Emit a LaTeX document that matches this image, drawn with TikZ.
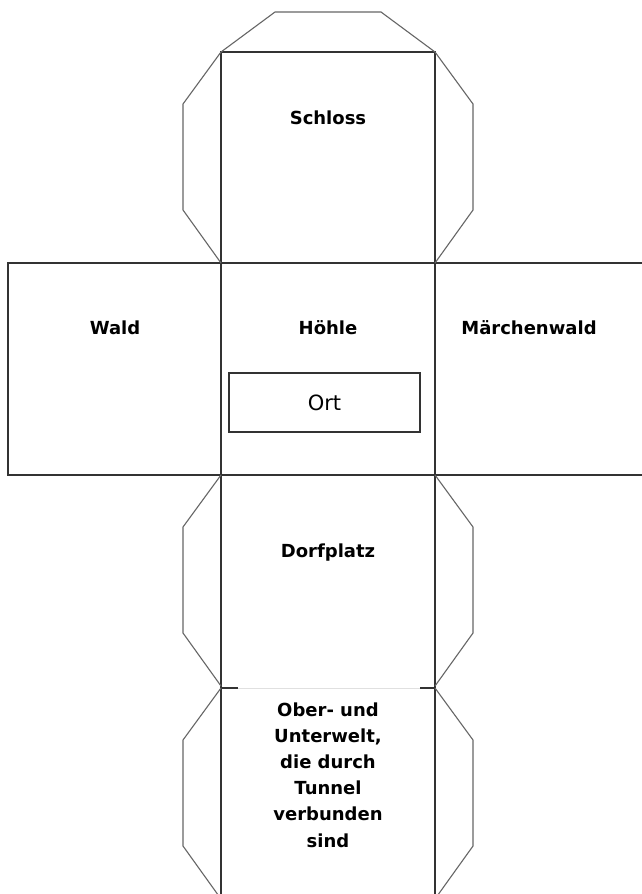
\documentclass[tikz,border=0pt]{standalone}
\usepackage{fontspec}
\setmainfont{DejaVu Sans}
\begin{document}
\begin{tikzpicture}[x=1pt,y=-1pt,
    face/.style={draw=black!80,line width=1.3pt},
    tab/.style={draw=black!60,line width=1.1pt},
    lbl/.style={anchor=base,font=\bfseries\fontsize{18}{26.2}\selectfont,align=center}]
      \clip (0,0) rectangle (642,894);
      \fill[white] (0,0) rectangle (642,894);
      \draw
        (328,124) node[lbl] (schloss){Schloss}
        (115,334) node[lbl] (wald){Wald}
        (328,334) node[lbl] (hoehle){Höhle}
        (529,334) node[lbl] (maerchen){Märchenwald}
        (328,557) node[lbl] (dorf){Dorfplatz}
        (328,847) node[lbl] (welt){Ober- und\\Unterwelt,\\die durch\\Tunnel\\verbunden\\sind};
      \node[draw=black!80,line width=1.2pt,minimum width=191pt,minimum height=59pt,
        font=\fontsize{21}{25}\selectfont] (ort) at (324.5,402.5) {Ort};
      \begin{scope}[face]
        \draw (221,52) rectangle (435,263);
        \draw (8,263) rectangle (221,475);
        \draw (221,263) rectangle (435,475);
        \draw (642,263) -- (435,263) -- (435,475) -- (642,475);
        \draw (221,475) -- (221,894);
        \draw (435,475) -- (435,894);
        \draw (221,688) -- (238,688);
        \draw (420,688) -- (435,688);
        \draw[black!12,line width=0.8pt] (238,688) -- (420,688);
      \end{scope}
      \begin{scope}[tab]
        \draw (221,52) -- (275,12) -- (381,12) -- (435,52);
        \foreach \y in {52,475,688}{
          \draw (221,\y) -- (183,\y+52) -- (183,\y+158) -- (221,\y+211);
          \draw (435,\y) -- (473,\y+52) -- (473,\y+158) -- (435,\y+211);
        }
      \end{scope}
    \end{tikzpicture}
\end{document}
